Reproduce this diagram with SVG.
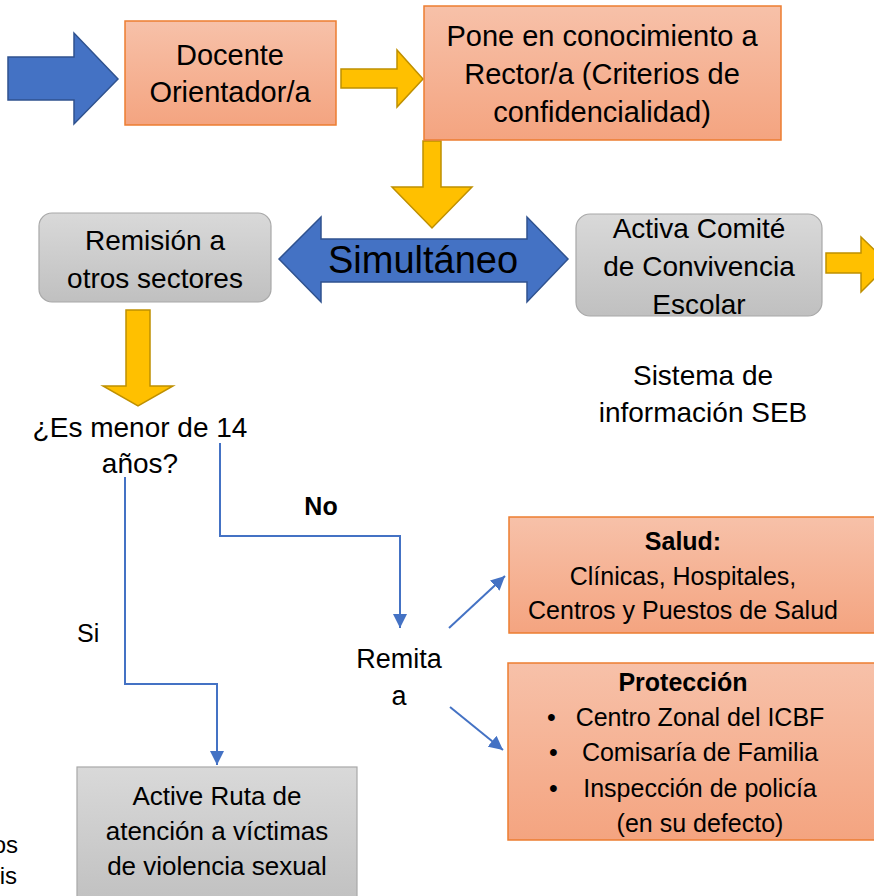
<svg xmlns="http://www.w3.org/2000/svg" width="874" height="896" viewBox="0 0 874 896">
<style>
text{font-family:"Liberation Sans",Arial,sans-serif;fill:#000;}
.c{text-anchor:middle;}
.orange{fill:url(#gOr);stroke:#ED7D31;stroke-width:1.5;}
.gray{fill:url(#gGr);stroke:#A8A8A8;stroke-width:1.2;}
.blueA{fill:#4472C4;stroke:#2F528F;stroke-width:1.5;}
.yel{fill:#FFC000;stroke:#BF9000;stroke-width:1.5;}
.ln{fill:none;stroke:#4472C4;stroke-width:2;}
</style>
<defs>
<linearGradient id="gOr" x1="0" y1="0" x2="0" y2="1"><stop offset="0" stop-color="#F7C1A9"/><stop offset="1" stop-color="#F4A480"/></linearGradient>
<linearGradient id="gGr" x1="0" y1="0" x2="0" y2="1"><stop offset="0" stop-color="#D9D9D9"/><stop offset="1" stop-color="#C0C0C0"/></linearGradient>
<marker id="ah" viewBox="0 0 10 10" refX="10" refY="5" markerWidth="7" markerHeight="7" orient="auto" markerUnits="strokeWidth"><path d="M0,0 L10,5 L0,10 z" fill="#4472C4"/></marker>
</defs>

<g id="connectors">
<polygon class="blueA" points="8,57 74,57 74,33 118,79 74,124 74,100 8,100"/>
<polygon class="yel" points="341,69 397,69 397,50 423,79 397,107 397,88 341,88"/>
<polygon class="yel" points="423,141 441,141 441,187 472,187 432,228 392,187 423,187"/>
<polygon class="yel" points="126,310 150,310 150,386 173,386 138,406 103,386 126,386"/>
<polygon class="yel" points="826,253 861,253 861,237 889,264 861,292 861,273 826,273"/>
<path class="ln" d="M125,477 V684 H217 V765" marker-end="url(#ah)"/>
<path class="ln" d="M220,443 V536 H400 V628" marker-end="url(#ah)"/>
<path class="ln" d="M449,628 L505,576" marker-end="url(#ah)"/>
<path class="ln" d="M450,707 L503,750" marker-end="url(#ah)"/>
</g>

<g id="simultaneo">
<polygon class="blueA" points="279,259 321,217 321,239 527,239 527,217 568,259 527,302 527,282 321,282 321,302"/>
<text class="c" x="423" y="273" font-size="38">Simultáneo</text>
</g>

<g id="docente">
<rect class="orange" x="125" y="21" width="211" height="104"/>
<text class="c" x="230" y="65" font-size="29">Docente</text>
<text class="c" x="230" y="102" font-size="29">Orientador/a</text>
</g>

<g id="pone">
<rect class="orange" x="424" y="6" width="357" height="134"/>
<text class="c" x="602" y="46" font-size="29">Pone en conocimiento a</text>
<text class="c" x="602" y="84" font-size="29">Rector/a (Criterios de</text>
<text class="c" x="602" y="122" font-size="29">confidencialidad)</text>
</g>

<g id="remision">
<rect class="gray" x="39" y="213" width="232" height="89" rx="13"/>
<text class="c" x="155" y="250" font-size="28">Remisión a</text>
<text class="c" x="155" y="288" font-size="28">otros sectores</text>
</g>

<g id="comite">
<rect class="gray" x="576" y="214" width="246" height="102" rx="14"/>
<text class="c" x="699" y="238" font-size="28">Activa Comité</text>
<text class="c" x="699" y="276" font-size="28">de Convivencia</text>
<text class="c" x="699" y="314" font-size="28">Escolar</text>
</g>

<g id="sistema">
<text class="c" x="703" y="385" font-size="28">Sistema de</text>
<text class="c" x="703" y="422" font-size="28">información SEB</text>
</g>

<g id="pregunta">
<text class="c" x="140" y="437" font-size="28">¿Es menor de 14</text>
<text class="c" x="140" y="473" font-size="28">años?</text>
</g>

<g id="labels">
<text class="c" x="321" y="515" font-size="25" font-weight="bold">No</text>
<text x="77" y="642" font-size="25">Si</text>
</g>

<g id="remita">
<text class="c" x="399" y="668" font-size="27">Remita</text>
<text class="c" x="399" y="705" font-size="27">a</text>
</g>

<g id="salud">
<rect class="orange" x="509" y="517" width="370" height="116"/>
<text class="c" x="683" y="550" font-size="25" font-weight="bold">Salud:</text>
<text class="c" x="683" y="585" font-size="25">Clínicas, Hospitales,</text>
<text class="c" x="683" y="619" font-size="25">Centros y Puestos de Salud</text>
</g>

<g id="proteccion">
<rect class="orange" x="508" y="663" width="370" height="177"/>
<text class="c" x="683" y="691" font-size="25" font-weight="bold">Protección</text>
<text x="547" y="726" font-size="25">•</text>
<text x="549" y="761" font-size="25">•</text>
<text x="549" y="797" font-size="25">•</text>
<text class="c" x="700" y="726" font-size="25">Centro Zonal del ICBF</text>
<text class="c" x="700" y="761" font-size="25">Comisaría de Familia</text>
<text class="c" x="700" y="797" font-size="25">Inspección de policía</text>
<text class="c" x="700" y="832" font-size="25">(en su defecto)</text>
</g>

<g id="ruta">
<rect class="gray" x="77" y="767" width="280" height="140"/>
<text class="c" x="217" y="805" font-size="26">Active Ruta de</text>
<text class="c" x="217" y="840" font-size="26">atención a víctimas</text>
<text class="c" x="217" y="875" font-size="26">de violencia sexual</text>
</g>

<g id="clipped">
<text x="18" y="853" font-size="24" text-anchor="end">os</text>
<text x="17" y="884" font-size="24" text-anchor="end">is</text>
</g>
</svg>
